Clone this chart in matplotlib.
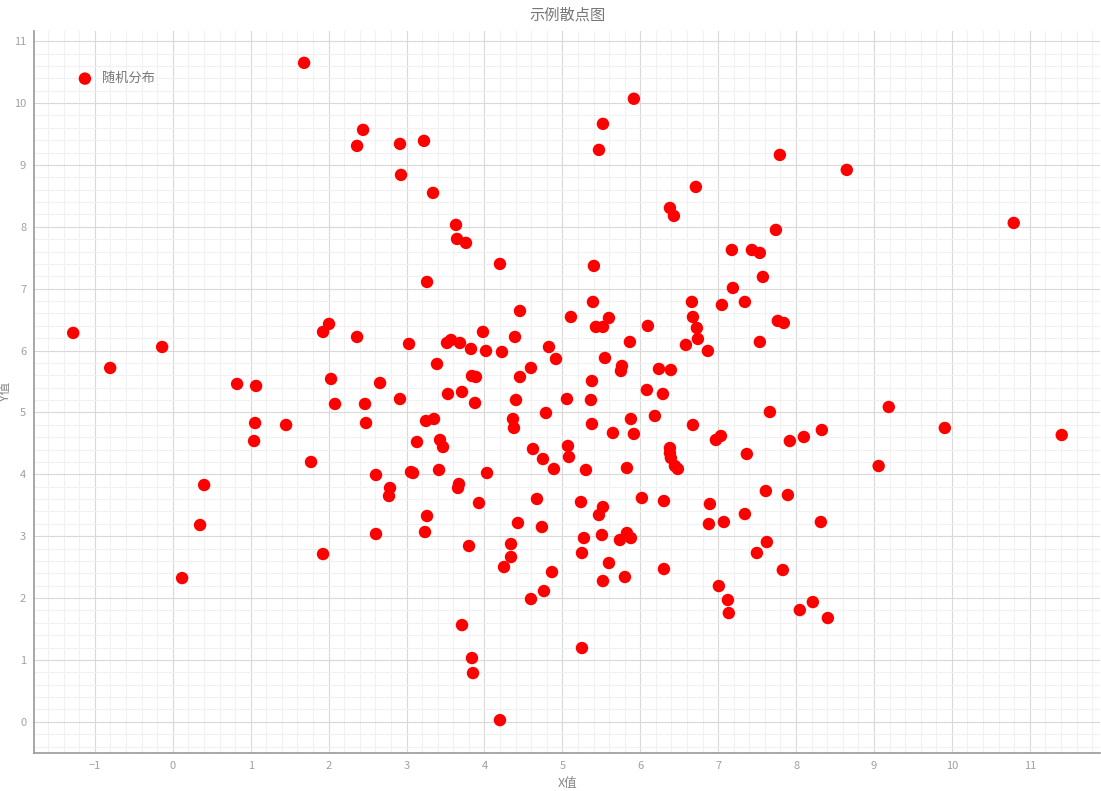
import matplotlib
matplotlib.use('Agg')
import matplotlib.pyplot as plt
from matplotlib.ticker import MultipleLocator

plt.rcParams['font.family'] = ['Noto Sans CJK SC', 'DejaVu Sans']
plt.rcParams['axes.unicode_minus'] = True

title = '示例散点图'
series_name = '随机分布'
x_label = 'X值'
y_label = 'Y值'

# values
x = [1.685, 5.918, 2.442, 5.521, 2.365, 2.916, 3.224, 5.470, 7.792, 2.929,
     8.651, 3.340, 6.714, 6.381, 6.432, 10.794, 3.635, 3.648, 3.763, 7.741,
     7.176, 7.433, 7.535, 4.199, 5.405, 3.263, 7.574, 7.189, 5.393, 6.663,
     7.048, 7.343, 4.456, 5.110, 5.598, 6.676, 7.766, 7.843, 5.431, 5.521,
     6.098, 6.727, -1.279, 2.005, 1.928, 3.981, 2.365, 4.392, 6.740, 3.519,
     3.571, 3.686, 7.535, 5.867, -0.137, 3.032, 3.827, 4.020, 4.225, 4.828,
     6.586, 6.868, 5.547, 4.918, -0.804, 4.597, 5.765, 5.752, 6.240, 6.393,
     3.391, 4.456, 3.840, 3.891, 2.031, 2.660, 0.825, 1.069, 5.380, 6.085,
     3.532, 3.712, 6.291, 2.916, 5.059, 5.367, 4.405, 2.467, 2.082, 3.879,
     9.190, 4.790, 7.664, 6.188, 3.353, 3.250, 4.366, 5.880, 1.056, 2.480,
     5.380, 1.454, 6.676, 4.379, 9.909, 8.331, 11.410, 5.649, 5.918, 8.100,
     7.035, 6.971, 7.920, 1.043, 3.430, 3.134, 3.468, 5.072, 6.381, 4.623,
     6.381, 6.393, 7.368, 5.085, 4.751, 6.445, 6.483, 1.774, 9.060, 4.892,
     5.829, 5.303, 3.417, 3.057, 3.083, 4.033, 2.608, 0.402, 3.673, 3.661,
     7.612, 2.788, 2.775, 7.895, 4.674, 6.021, 5.239, 6.304, 3.930, 6.894,
     5.521, 7.343, 5.470, 3.263, 0.350, 4.430, 8.318, 7.073, 6.881, 4.738,
     3.237, 2.608, 5.829, 5.508, 5.880, 5.277, 5.739, 7.625, 4.341, 3.802,
     1.928, 5.252, 7.497, 4.341, 5.598, 4.251, 6.304, 7.830, 4.867, 5.803,
     0.119, 5.521, 7.009, 4.764, 4.597, 7.125, 8.215, 8.048, 7.137, 8.408,
     3.712, 5.252, 3.840, 3.853, 4.199]
y = [10.65, 10.07, 9.567, 9.664, 9.308, 9.340, 9.389, 9.243, 9.162, 8.839,
     8.920, 8.548, 8.645, 8.305, 8.176, 8.063, 8.031, 7.804, 7.740, 7.950,
     7.626, 7.626, 7.578, 7.400, 7.368, 7.109, 7.190, 7.012, 6.786, 6.786,
     6.737, 6.786, 6.640, 6.543, 6.527, 6.543, 6.479, 6.446, 6.382, 6.382,
     6.398, 6.365, 6.285, 6.430, 6.301, 6.301, 6.220, 6.220, 6.188, 6.123,
     6.171, 6.123, 6.139, 6.139, 6.058, 6.107, 6.026, 5.994, 5.977, 6.058,
     6.091, 5.994, 5.880, 5.864, 5.719, 5.719, 5.751, 5.670, 5.703, 5.686,
     5.783, 5.573, 5.589, 5.573, 5.541, 5.476, 5.460, 5.428, 5.508, 5.363,
     5.298, 5.331, 5.298, 5.217, 5.217, 5.201, 5.201, 5.137, 5.137, 5.153,
     5.088, 4.991, 5.007, 4.943, 4.894, 4.862, 4.894, 4.894, 4.829, 4.829,
     4.813, 4.797, 4.797, 4.749, 4.749, 4.716, 4.635, 4.668, 4.652, 4.603,
     4.619, 4.555, 4.538, 4.538, 4.555, 4.522, 4.441, 4.458, 4.425, 4.409,
     4.344, 4.264, 4.328, 4.280, 4.247, 4.134, 4.086, 4.199, 4.134, 4.086,
     4.102, 4.070, 4.070, 4.037, 4.021, 4.021, 3.989, 3.827, 3.843, 3.779,
     3.730, 3.779, 3.649, 3.665, 3.601, 3.617, 3.552, 3.568, 3.536, 3.520,
     3.471, 3.358, 3.342, 3.326, 3.180, 3.213, 3.229, 3.229, 3.196, 3.148,
     3.067, 3.035, 3.051, 3.019, 2.970, 2.970, 2.938, 2.905, 2.873, 2.841,
     2.711, 2.728, 2.728, 2.663, 2.566, 2.501, 2.469, 2.453, 2.420, 2.340,
     2.323, 2.275, 2.194, 2.113, 1.984, 1.968, 1.935, 1.806, 1.757, 1.677,
     1.563, 1.192, 1.030, 0.787, 0.027]

fig = plt.figure(figsize=(11.01, 7.91), dpi=100)
ax = fig.add_axes([0.0313, 0.0484, 0.9677, 0.9128])

ax.scatter(x, y, s=80, c='#ff0000', edgecolors='none', label=series_name, zorder=3)

ax.set_xlim(-1.776, 11.9)
ax.set_ylim(-0.5, 11.17)
ax.xaxis.set_major_locator(MultipleLocator(1))
ax.yaxis.set_major_locator(MultipleLocator(1))
ax.xaxis.set_minor_locator(MultipleLocator(0.2))
ax.yaxis.set_minor_locator(MultipleLocator(0.2))
ax.grid(which='major', color='#d9d9d9', linewidth=0.8, zorder=0)
ax.grid(which='minor', color='#f1f1f1', linewidth=0.8, zorder=0)
ax.set_axisbelow(True)
ax.tick_params(which='both', length=0, labelsize=8, labelcolor='#a0a0a0', pad=6)

for side in ['top', 'right']:
    ax.spines[side].set_visible(False)
for side in ['left', 'bottom']:
    ax.spines[side].set_color('#999999')
    ax.spines[side].set_linewidth(1.2)

ax.set_title(title, fontsize=11, color='#777777', pad=8)
ax.set_xlabel(x_label, fontsize=9, color='#888888')
ax.set_ylabel(y_label, fontsize=9, color='#888888')
ax.xaxis.set_label_coords(0.5, -0.033)
ax.yaxis.set_label_coords(-0.021, 0.5)

leg = ax.legend(loc='upper left', bbox_to_anchor=(0.03, 0.95), frameon=False,
                fontsize=9.5, handletextpad=0.3, borderaxespad=0)
for t in leg.get_texts():
    t.set_color('#777777')

fig.savefig('out.png', dpi=100)
